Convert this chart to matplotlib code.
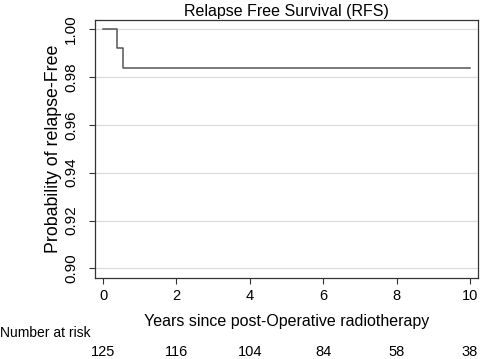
import matplotlib
matplotlib.use('Agg')
import matplotlib.pyplot as plt

plt.rcParams['font.family'] = ['Liberation Sans', 'DejaVu Sans']

# Kaplan-Meier steps
times = [0, 0.38, 0.54, 10]
surv = [1.0, 0.992, 0.9839, 0.9839]

risk_times = [0, 2, 4, 6, 8, 10]
at_risk = [125, 116, 104, 84, 58, 38]

yticks = [0.90, 0.92, 0.94, 0.96, 0.98, 1.00]

fig = plt.figure(figsize=(4.8, 3.59), dpi=100)
ax = fig.add_axes([0.198, 0.2256, 0.798, 0.7184])

for y in yticks:
    ax.axhline(y, color='#dcdcdc', linewidth=0.9, zorder=0)

ax.step(times, surv, where='post', color='#555555', linewidth=1.1)

ax.set_xlim(-0.22, 10.22)
ax.set_ylim(0.896, 1.0037)
ax.set_xticks(risk_times)
ax.set_yticks(yticks)
ax.set_yticklabels([f'{v:.2f}' for v in yticks], rotation=90, va='center')
ax.tick_params(length=4, width=0.8, color='#333333')
ax.tick_params(axis='x', labelsize=10.5, pad=4)
ax.tick_params(axis='y', labelsize=11, pad=8)

for s in ax.spines.values():
    s.set_color('#333333')
    s.set_linewidth(0.9)

ax.set_title('Relapse Free Survival (RFS)', fontsize=11.5, pad=3)
ax.set_ylabel('Probability of relapse-Free', fontsize=12.8, labelpad=2)
ax.set_xlabel('Years since post-Operative radiotherapy', fontsize=11.5, labelpad=8)

fig.text(0.0, 359 - 333, 'Number at risk', fontsize=10,
         transform=None, va='center', ha='left')
for t, n in zip(risk_times, at_risk):
    ax.annotate(str(n), xy=(t, 0), xycoords=('data', 'figure pixels'),
                xytext=(0, 7), textcoords='offset pixels',
                ha='center', va='center', fontsize=10.5)

fig.savefig('out.png', dpi=100)
